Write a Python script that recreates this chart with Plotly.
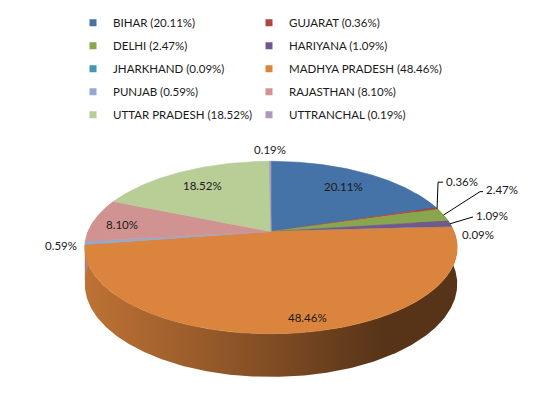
import numpy as np
import plotly.graph_objects as go

# ---------------- data ----------------
states = ["BIHAR", "GUJARAT", "DELHI", "HARIYANA", "JHARKHAND",
          "MADHYA PRADESH", "PUNJAB", "RAJASTHAN", "UTTAR PRADESH", "UTTRANCHAL"]
shares = [20.11, 0.36, 2.47, 1.09, 0.09, 48.46, 0.59, 8.10, 18.52, 0.19]
colors = ["#4572A7", "#AA4643", "#89A54E", "#71588F", "#4198AF",
          "#DB843D", "#93A9CF", "#D19392", "#B9CD96", "#A99BBD"]
left_col = ["BIHAR", "DELHI", "JHARKHAND", "PUNJAB", "UTTAR PRADESH"]

# ---------------- geometry / style ----------------
W, H = 541, 399
OFF = 8  # default page body margin, compensated so page pixels == axis units
CX, CY, RX, RY, PERSP, DEPTH = 271, 227, 183, 85.4, 0.186, 36
FONT = "Lato"
TXT = "#1a1a1a"

label_style = {
    0: dict(kind="in", d=(0, 0)),
    1: dict(kind="out", path=[(1, -27), (6, -27)], t=(7, -28), anchor="left"),
    2: dict(kind="out", path=[(36.5, -24), (39.5, -24)], t=(40.5, -26), anchor="left"),
    3: dict(kind="out", path=[(21, -7), (23, -7)], t=(24, -8), anchor="left"),
    4: dict(kind="out", path=None, t=(8, 8), anchor="left"),
    5: dict(kind="in", d=(20, 14)),
    6: dict(kind="out", path=None, t=(-6, 3), anchor="right"),
    7: dict(kind="in", d=(-16, 2)),
    8: dict(kind="in", d=(0, 0)),
    9: dict(kind="out", path=None, t=(0, -12), anchor="center"),
}


def scale(theta, r=1.0):
    return 1.0 / (1.0 + PERSP * r * np.cos(theta))


def proj(theta, r=1.0):
    s = scale(theta, r)
    return CX + RX * r * np.sin(theta) * s, CY - RY * r * np.cos(theta) * s


def shade(hexc, f):
    h = hexc.lstrip("#")
    r, g, b = (int(h[i:i + 2], 16) for i in (0, 2, 4))
    return "rgb(%d,%d,%d)" % (r * f, g * f, b * f)


total = sum(shares)
bounds = np.concatenate([[0.0], np.cumsum(shares) / total]) * 2 * np.pi

fig = go.Figure()

# ---- side walls (front part) ----
lo, hi = np.radians(60), np.radians(300)
for i, c in enumerate(colors):
    a, b = max(bounds[i], lo), min(bounds[i + 1], hi)
    if b <= a:
        continue
    t = np.linspace(a, b, max(int((b - a) / 0.01), 2))
    xt, yt = proj(t)
    yb = yt + DEPTH * scale(t)
    xs = np.concatenate([xt, xt[::-1], xt[:1]])
    ys = np.concatenate([yt, yb[::-1], yt[:1]])
    fig.add_trace(go.Scatter(
        x=xs, y=ys, mode="lines", fill="toself",
        line=dict(width=0, color=shade(c, 0.6)),
        fillgradient=dict(type="horizontal",
                          colorscale=[[0, shade(c, 0.87)], [0.35, shade(c, 0.68)],
                                      [0.8, shade(c, 0.40)], [1, shade(c, 0.40)]],
                          start=CX - RX * 1.02, stop=CX + RX * 1.02),
        hoverinfo="skip", showlegend=False))

# ---- top faces ----
for i, (name, v, c) in enumerate(zip(states, shares, colors)):
    a, b = bounds[i], bounds[i + 1]
    t = np.linspace(a, b, max(int((b - a) / 0.01), 2))
    xt, yt = proj(t)
    xs = np.concatenate([[CX], xt, [CX]])
    ys = np.concatenate([[CY], yt, [CY]])
    fig.add_trace(go.Scatter(
        x=xs, y=ys, mode="lines", fill="toself", fillcolor=c,
        line=dict(width=0.6, color=c), name=name,
        text="%s: %.2f%%" % (name, v), hoverinfo="text",
        showlegend=False))

# ---- data labels ----
annotations = []
for i, v in enumerate(shares):
    st = label_style[i]
    mid = (bounds[i] + bounds[i + 1]) / 2
    txt = "%.2f%%" % v
    if st["kind"] == "in":
        x, y = proj(mid, 0.75)
        annotations.append(dict(x=x + st["d"][0], y=y + st["d"][1], text=txt,
                                xref="x", yref="y", showarrow=False,
                                xanchor="center", yanchor="middle",
                                font=dict(family=FONT, size=11.5, color=TXT)))
    else:
        rx_, ry_ = proj(mid)
        if st["path"]:
            lx = [rx_] + [rx_ + p[0] for p in st["path"]]
            ly = [ry_] + [ry_ + p[1] for p in st["path"]]
            fig.add_trace(go.Scatter(x=lx, y=ly, mode="lines",
                                     line=dict(color="#000000", width=1),
                                     hoverinfo="skip", showlegend=False))
        annotations.append(dict(x=rx_ + st["t"][0], y=ry_ + st["t"][1], text=txt,
                                xref="x", yref="y", showarrow=False,
                                xanchor=st["anchor"], yanchor="middle",
                                font=dict(family=FONT, size=11.5, color=TXT)))

# ---- legend entries ----
order = [0, 2, 4, 6, 8, 1, 3, 5, 7, 9]
for i in order:
    name, v, c = states[i], shares[i], colors[i]
    fig.add_trace(go.Scatter(
        x=[None], y=[None], mode="markers",
        marker=dict(symbol="square", size=7, color=c),
        name="%s (%.2f%%)" % (name, v),
        legend="legend" if name in left_col else "legend2",
        legendgroup=name, showlegend=True))

legend_common = dict(orientation="v", yanchor="top", y=1.0 + 10 / H, xanchor="left",
                     bgcolor="rgba(0,0,0,0)", tracegroupgap=4, itemwidth=30,
                     font=dict(family=FONT, size=11.5, color=TXT))

fig.update_layout(
    width=W, height=H,
    margin=dict(l=0, r=0, t=0, b=0),
    paper_bgcolor="white", plot_bgcolor="white",
    xaxis=dict(range=[OFF, W + OFF], visible=False, fixedrange=True),
    yaxis=dict(range=[H + OFF, OFF], visible=False, fixedrange=True),
    annotations=annotations,
    legend=dict(x=(73 - OFF) / W, **legend_common),
    legend2=dict(x=(249 - OFF) / W, **legend_common),
    showlegend=True,
)

fig.write_html("out.html")
